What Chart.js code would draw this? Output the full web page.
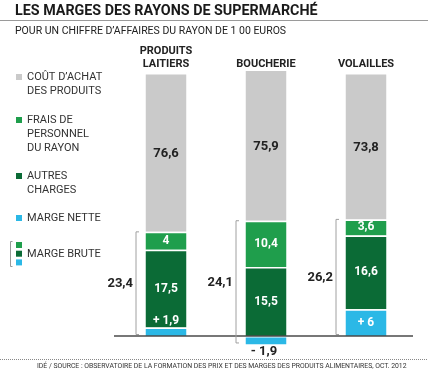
<!DOCTYPE html>
<html lang="fr">
<head>
<meta charset="utf-8">
<title>Les marges des rayons de supermarché</title>
<script src="https://cdn.jsdelivr.net/npm/chart.js@4.4.1/dist/chart.umd.min.js"></script>
<style>
  html, body { margin: 0; padding: 0; background: #fff; }
  #wrap { width: 428px; height: 374px; }
</style>
</head>
<body>
<div id="wrap"><canvas id="margesChart" width="428" height="374"></canvas></div>
<script>
// Pour un chiffre d'affaires du rayon de 100 euros
const rayons = [['PRODUITS', 'LAITIERS'], ['BOUCHERIE'], ['VOLAILLES']];
const margeNette = [1.9, -1.9, 6];
const autresCharges = [17.5, 15.5, 16.6];
const fraisPersonnel = [4, 10.4, 3.6];
const coutAchat = [76.6, 75.9, 73.8];
const margeBrute = [23.4, 24.1, 26.2];

const COLORS = {
    gris: '#cacaca',
    vertClair: '#1f9e4c',
    vertFonce: '#0b6b36',
    bleu: '#2bb8e6',
    texte: '#222'
};

const fmt = v => String(v).replace('.', ',');

// echelle coupee : le cout d'achat est dessine en version "tassee"
class BrokenLinearScale extends Chart.LinearScale {
    toDecimal(v) {
        const brk = this.options.breakValue, frac = this.options.breakFraction;
        if (v <= brk) return frac * (v - this.min) / (brk - this.min);
        return frac + (1 - frac) * (v - brk) / (this.max - brk);
    }
    getPixelForValue(value) {
        if (value === null || value === undefined) return NaN;
        return this.getPixelForDecimal(this.toDecimal(value));
    }
    getValueForPixel(pixel) {
        const d = this.getDecimalForPixel(pixel);
        const brk = this.options.breakValue, frac = this.options.breakFraction;
        if (d <= frac) return this.min + d / frac * (brk - this.min);
        return brk + (d - frac) / (1 - frac) * (this.max - brk);
    }
}
BrokenLinearScale.id = 'brokenLinear';
BrokenLinearScale.defaults = Chart.LinearScale.defaults;
Chart.register(BrokenLinearScale);

const habillage = {
    id: 'habillage',
    afterDraw(chart) {
        const ctx = chart.ctx;
        const area = chart.chartArea;
        const y = chart.scales.y;
        ctx.save();

        // titre + sous-titre
        ctx.fillStyle = '#1a1a1a';
        ctx.textBaseline = 'alphabetic';
        ctx.textAlign = 'left';
        ctx.font = 'bold 14.3px Roboto';
        ctx.fillText('LES MARGES DES RAYONS DE SUPERMARCHÉ', 15, 15);
        ctx.strokeStyle = '#9a9a9a';
        ctx.lineWidth = 1;
        ctx.beginPath();
        ctx.moveTo(0, 20.5);
        ctx.lineTo(428, 20.5);
        ctx.stroke();
        ctx.fillStyle = '#222';
        ctx.font = '10.5px Roboto';
        ctx.fillText('POUR UN CHIFFRE D\u2019AFFAIRES DU RAYON DE 1 00 EUROS', 15, 33.5);

        // legende
        const legende = [
            { color: COLORS.gris, top: 74, lines: ['COÛT D\u2019ACHAT', 'DES PRODUITS'] },
            { color: COLORS.vertClair, top: 117, lines: ['FRAIS DE', 'PERSONNEL', 'DU RAYON'] },
            { color: COLORS.vertFonce, top: 173, lines: ['AUTRES', 'CHARGES'] },
            { color: COLORS.bleu, top: 215, lines: ['MARGE NETTE'] }
        ];
        ctx.font = '11px Roboto';
        ctx.textBaseline = 'middle';
        legende.forEach(item => {
            ctx.fillStyle = item.color;
            ctx.fillRect(16, item.top, 6, 6);
            ctx.fillStyle = '#333';
            item.lines.forEach((l, k) => ctx.fillText(l, 27, item.top + 3.5 + k * 14));
        });
        [COLORS.vertClair, COLORS.vertFonce, COLORS.bleu].forEach((c, k) => {
            ctx.fillStyle = c;
            ctx.fillRect(16, 242 + k * 8.7, 6, 6);
        });
        ctx.fillStyle = '#333';
        ctx.fillText('MARGE BRUTE', 27, 254);
        ctx.strokeStyle = '#999';
        ctx.beginPath();
        ctx.moveTo(12.5, 241.5); ctx.lineTo(10.5, 241.5); ctx.lineTo(10.5, 266.5); ctx.lineTo(12.5, 266.5);
        ctx.stroke();

        // noms des rayons
        const x = chart.scales.x;
        ctx.fillStyle = COLORS.texte;
        ctx.textAlign = 'center';
        ctx.font = 'bold 11px Roboto';
        rayons.forEach((lines, i) => {
            const cx = x.getPixelForValue(i);
            lines.forEach((l, k) => ctx.fillText(l, cx, 64.5 - (lines.length - 1 - k) * 13));
        });

        // ligne de base
        const y0 = y.getPixelForValue(0);
        ctx.strokeStyle = '#4a4a4a';
        ctx.lineWidth = 1.5;
        ctx.beginPath();
        ctx.moveTo(area.left - 2, y0);
        ctx.lineTo(area.right - 3, y0);
        ctx.stroke();

        // crochets de marge brute
        const metas = chart.data.datasets.map((d, i) => chart.getDatasetMeta(i));
        margeBrute.forEach((v, i) => {
            const bar = metas[2].data[i];
            const bottomBar = metas[0].data[i];
            const top = bar.y;
            const bottom = Math.max(y0, bottomBar.y, bottomBar.base) - 1.5;
            const bx = bar.x - bar.width / 2 - 9.5;
            ctx.strokeStyle = '#a0a0a0';
            ctx.lineWidth = 1;
            ctx.beginPath();
            ctx.moveTo(bx + 3, top); ctx.lineTo(bx, top); ctx.lineTo(bx, bottom); ctx.lineTo(bx + 3, bottom);
            ctx.stroke();
            ctx.fillStyle = COLORS.texte;
            ctx.font = 'bold 13px Roboto';
            ctx.textAlign = 'right';
            ctx.fillText(fmt(v), bx - 3, (top + bottom) / 2 + 1);
        });

        // valeurs dans les barres
        ctx.textAlign = 'center';
        chart.data.datasets.forEach((ds, di) => {
            metas[di].data.forEach((el, i) => {
                const v = ds.data[i];
                let ty = (el.y + el.base) / 2;
                let color = '#fff';
                let txt = fmt(v);
                ctx.font = 'bold 12px Roboto';
                if (di === 0) {
                    txt = (v > 0 ? '+ ' : '- ') + fmt(Math.abs(v));
                    if (v < 0) { ty = el.y + 7.5; color = COLORS.texte; ctx.font = 'bold 13px Roboto'; }
                    else if (Math.abs(el.base - el.y) < 14) ty = el.y - 6.5;
                }
                if (di === 3) { color = COLORS.texte; ctx.font = 'bold 13px Roboto'; ty += 1.5; }
                ctx.fillStyle = color;
                ctx.fillText(txt, el.x - (v < 0 ? 2 : 0), ty);
            });
        });

        // source
        ctx.strokeStyle = '#888';
        ctx.lineWidth = 1;
        ctx.setLineDash([1, 1]);
        ctx.beginPath();
        ctx.moveTo(0, 359.5);
        ctx.lineTo(428, 359.5);
        ctx.stroke();
        ctx.setLineDash([]);
        ctx.fillStyle = '#333';
        ctx.font = '6.85px Roboto';
        ctx.textAlign = 'left';
        ctx.fillText('IDÉ / SOURCE : OBSERVATOIRE DE LA FORMATION DES PRIX ET DES MARGES DES PRODUITS ALIMENTAIRES, OCT. 2012', 37, 366.5);

        ctx.restore();
    }
};

const serie = (label, data, color) => ({
    label,
    data,
    backgroundColor: color,
    borderColor: '#fff',
    borderWidth: { top: 1.5, bottom: 0, left: 0, right: 0 },
    borderSkipped: false,
    barPercentage: 0.41,
    categoryPercentage: 1
});

new Chart(document.getElementById('margesChart'), {
    type: 'bar',
    data: {
        labels: rayons.map(r => r.join(' ')),
        datasets: [
            serie('Marge nette', margeNette, COLORS.bleu),
            serie('Autres charges', autresCharges, COLORS.vertFonce),
            serie('Frais de personnel du rayon', fraisPersonnel, COLORS.vertClair),
            serie('Coût d\u2019achat des produits', coutAchat, COLORS.gris)
        ]
    },
    options: {
        responsive: false,
        animation: false,
        layout: { padding: { left: 116, right: 12, top: 69, bottom: 28.2 } },
        plugins: { legend: { display: false }, tooltip: { enabled: false } },
        scales: {
            x: { stacked: true, display: false },
            y: {
                type: 'brokenLinear',
                stacked: true,
                display: false,
                min: -2.2,
                max: 102,
                breakValue: 27,
                breakFraction: 0.4695
            }
        }
    },
    plugins: [habillage]
});
</script>
</body>
</html>
